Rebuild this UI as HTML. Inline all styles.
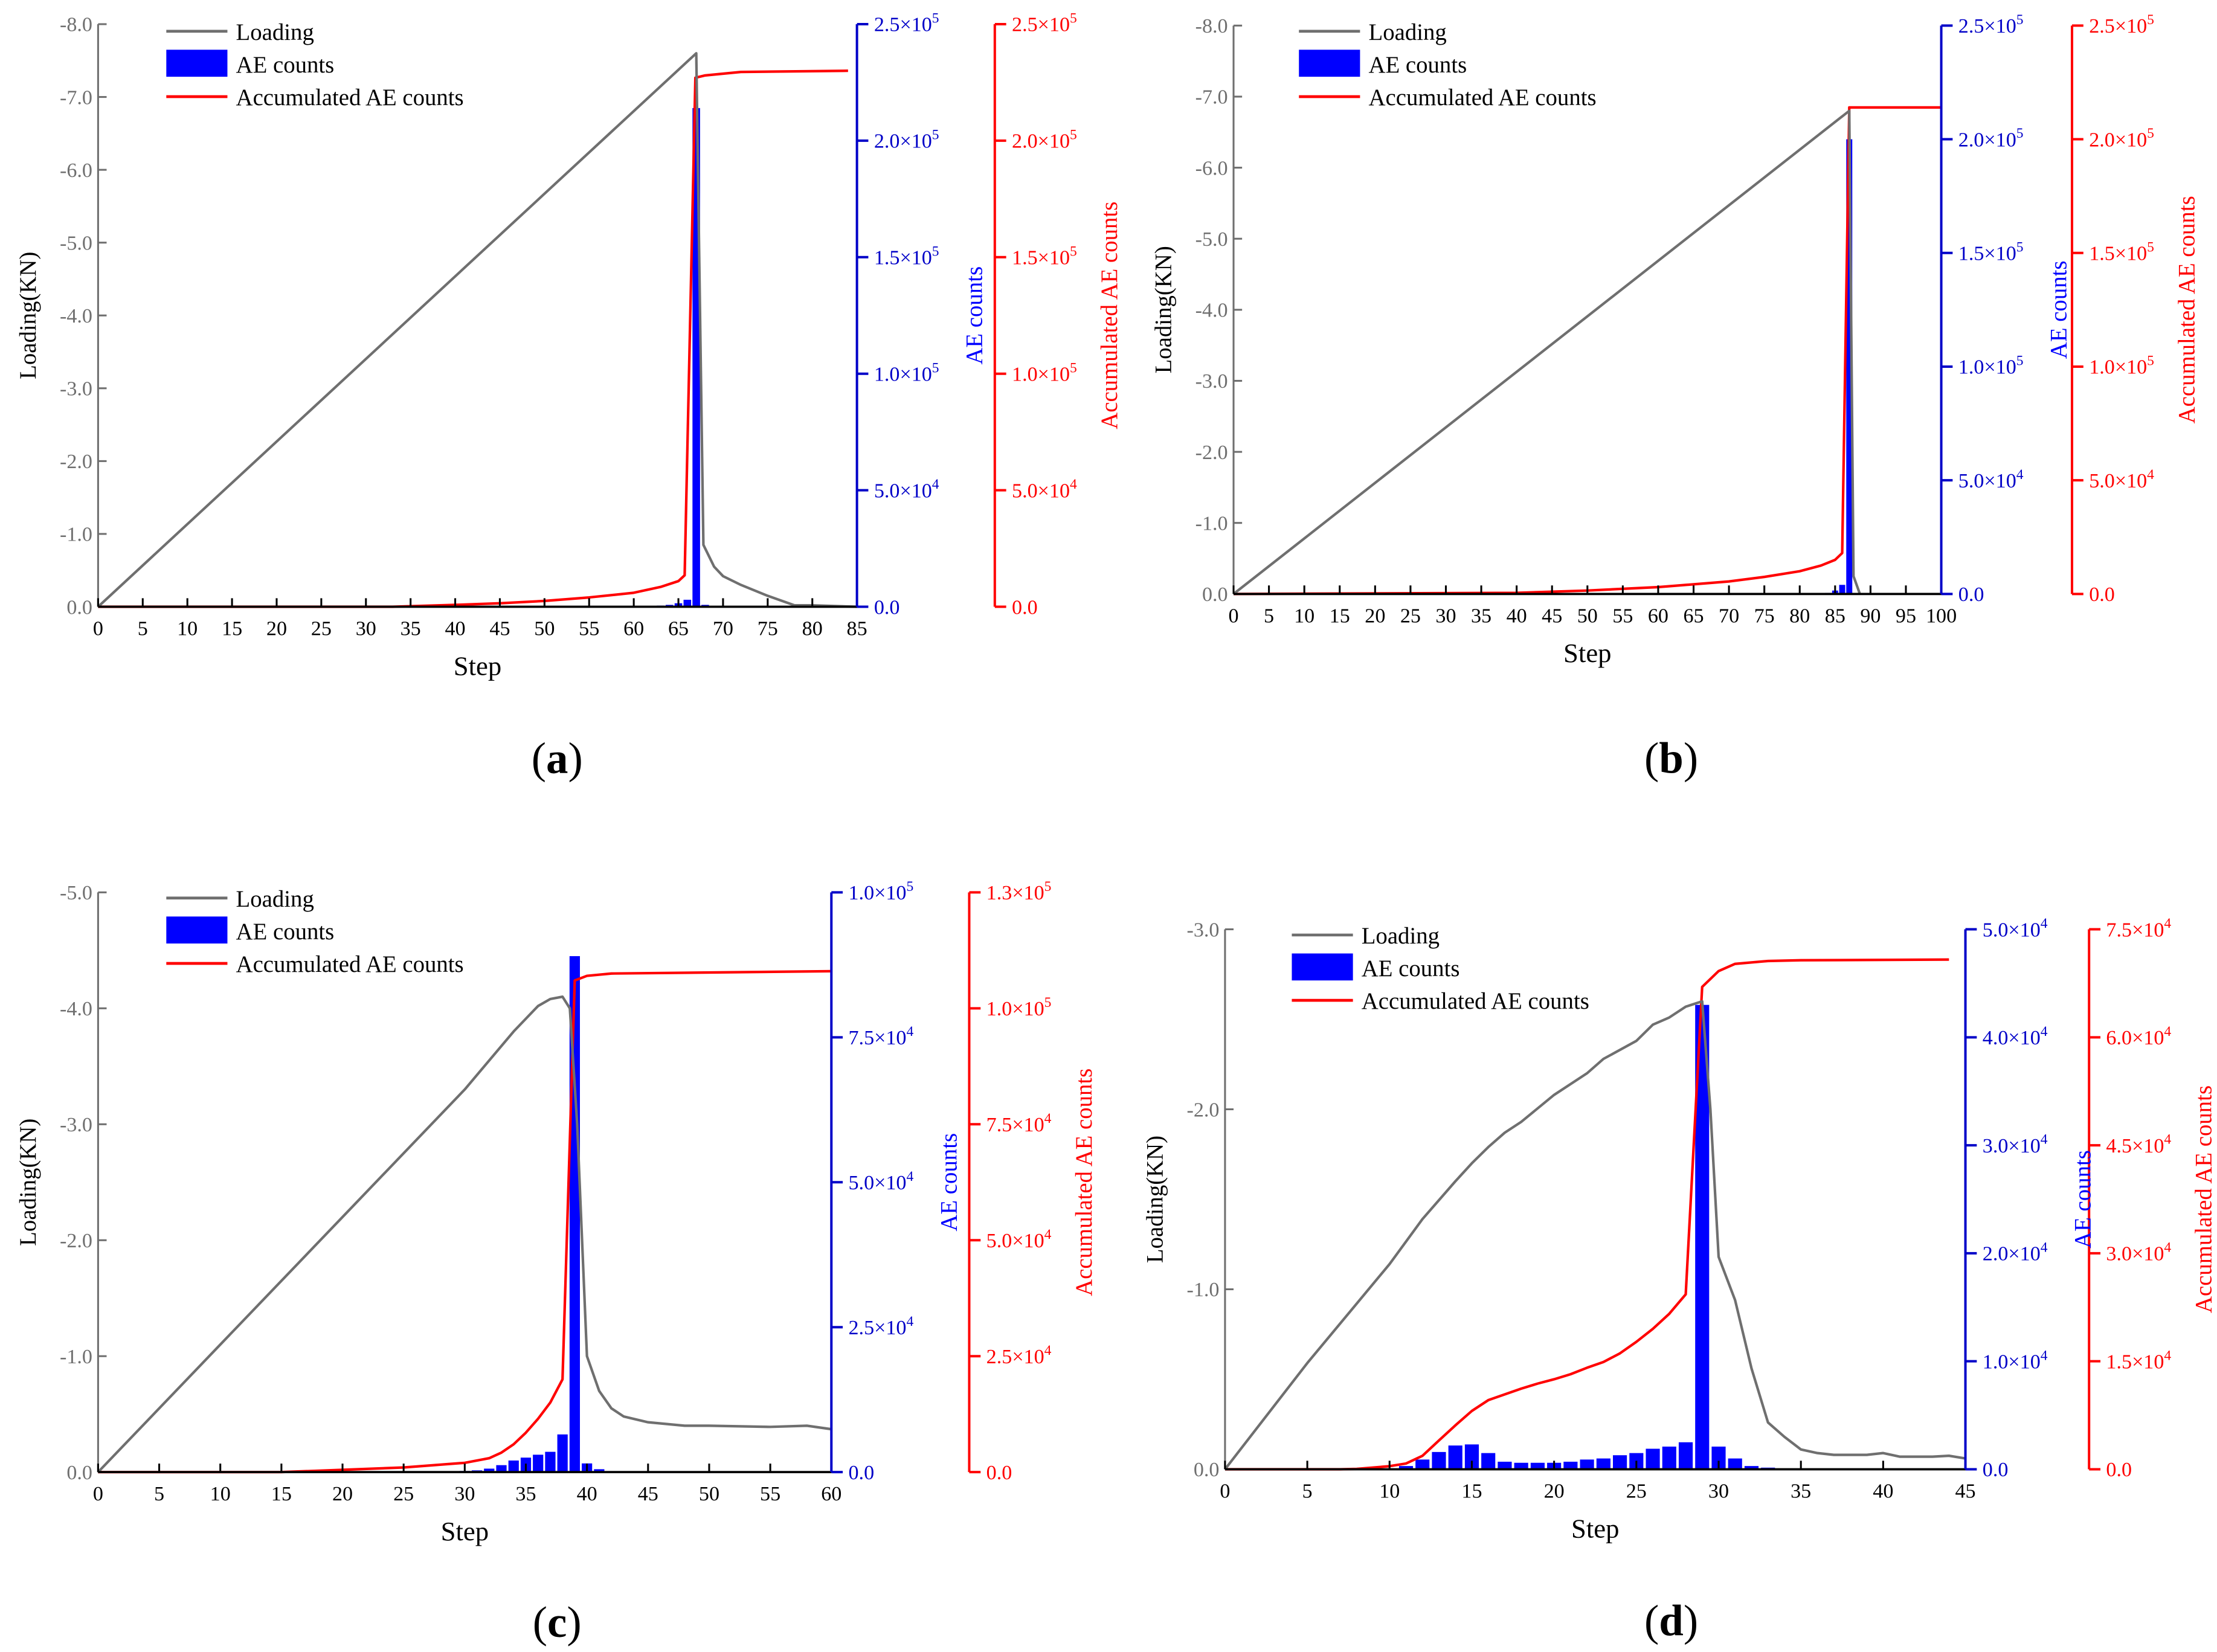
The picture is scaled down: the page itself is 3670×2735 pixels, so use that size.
<!DOCTYPE html>
<html><head><meta charset="utf-8">
<style>
html,body{margin:0;padding:0;background:#fff;}
svg{display:block;}
svg text{font-family:"Liberation Serif","DejaVu Serif",serif;}
</style></head>
<body>
<svg id="fig" width="3670" height="2735" viewBox="0 0 1560 1162.6" font-family="Liberation Serif, serif" xmlns="http://www.w3.org/2000/svg"></svg>
<script>
// ---------- Panel (a) data ----------
const aLoadSteps = [0, 67, 67.8, 69, 70, 72, 75, 78, 80, 85];
const aLoadValues = [0, -7.6, -0.85, -0.55, -0.42, -0.3, -0.15, -0.02, -0.02, 0];
const aBarSteps = [62, 63, 64, 65, 66, 67, 68];
const aBarValues = [300, 500, 800, 1500, 3000, 214000, 800];
const aAccSteps = [0, 33, 40, 45, 50, 55, 60, 63, 65, 65.7, 66.9, 68, 72, 84];
const aAccValues = [0, 0, 800, 1500, 2500, 4000, 6000, 8500, 11000, 13500, 227000, 228000, 229500, 230000];
const aLeftTicks = [0, -1, -2, -3, -4, -5, -6, -7, -8];
const aBlueTicks = [0, 50000, 100000, 150000, 200000, 250000];
const aRedTicks = [0, 50000, 100000, 150000, 200000, 250000];
const aXTicks = [0,5,10,15,20,25,30,35,40,45,50,55,60,65,70,75,80,85];

// ---------- Panel (b) data ----------
const bLoadSteps = [0, 87, 87.6, 88.5];
const bLoadValues = [0, -6.8, -0.25, 0];
const bBarSteps = [84, 85, 86, 87];
const bBarValues = [500, 1500, 4000, 200000];
const bAccSteps = [0, 40, 50, 60, 70, 75, 80, 83, 85, 86, 87, 100];
const bAccValues = [0, 500, 1500, 3000, 5500, 7500, 10000, 12500, 15000, 18000, 214000, 214000];
const bLeftTicks = [0, -1, -2, -3, -4, -5, -6, -7, -8];
const bBlueTicks = [0, 50000, 100000, 150000, 200000, 250000];
const bRedTicks = [0, 50000, 100000, 150000, 200000, 250000];
const bXTicks = [0,5,10,15,20,25,30,35,40,45,50,55,60,65,70,75,80,85,90,95,100];

// ---------- Panel (c) data ----------
const cLoadSteps = [0, 10, 20, 30, 34, 36, 37, 38, 38.6, 39.2, 40, 41, 42, 43, 45, 48, 50, 55, 58, 60];
const cLoadValues = [0, -1.1, -2.2, -3.3, -3.8, -4.02, -4.08, -4.1, -4.0, -3.0, -1.0, -0.7, -0.55, -0.48, -0.43, -0.4, -0.4, -0.39, -0.4, -0.37];
const cBarSteps = [30, 31, 32, 33, 34, 35, 36, 37, 38, 39, 40, 41];
const cBarValues = [200, 300, 600, 1200, 2000, 2500, 3000, 3500, 6500, 89000, 1500, 500];
const cAccSteps = [0, 15, 20, 25, 30, 32, 33, 34, 35, 36, 37, 38, 39, 40, 42, 60];
const cAccValues = [0, 0, 500, 1000, 2000, 3000, 4200, 6000, 8500, 11500, 15000, 20000, 106000, 107000, 107500, 108000];
const cLeftTicks = [0, -1, -2, -3, -4, -5];
const cBlueTicks = [0, 25000, 50000, 75000, 100000];
const cRedTicks = [0, 25000, 50000, 75000, 100000, 125000];
const cXTicks = [0,5,10,15,20,25,30,35,40,45,50,55,60];

// ---------- Panel (d) data ----------
const dLoadSteps = [0,5,10,12,14,15,16,17,18,20,22,23,25,26,27,28,29,29.5,30,31,32,33,34,35,36,37,38,39,40,41,42,43,44,45];
const dLoadValues = [0,-0.59,-1.14,-1.39,-1.6,-1.7,-1.79,-1.87,-1.93,-2.08,-2.2,-2.28,-2.38,-2.47,-2.51,-2.57,-2.6,-2.0,-1.18,-0.94,-0.56,-0.26,-0.18,-0.11,-0.09,-0.08,-0.08,-0.08,-0.09,-0.07,-0.07,-0.07,-0.075,-0.06];
const dBarSteps = [11,12,13,14,15,16,17,18,19,20,21,22,23,24,25,26,27,28,29,30,31,32,33];
const dBarValues = [300,900,1600,2200,2300,1500,700,600,600,600,700,900,1000,1300,1500,1900,2100,2500,43000,2100,1000,300,150];
const dAccSteps = [0,7,8,10,11,12,13,14,15,16,17,18,19,20,21,22,23,24,25,26,27,28,29,30,31,33,35,44];
const dAccValues = [0,0,50,430,800,1870,4000,6100,8100,9600,10400,11200,11900,12500,13200,14100,14900,16100,17700,19500,21600,24300,67000,69200,70200,70600,70700,70800];
const dLeftTicks = [0, -1, -2, -3];
const dBlueTicks = [0, 10000, 20000, 30000, 40000, 50000];
const dRedTicks = [0, 15000, 30000, 45000, 60000, 75000];
const dXTicks = [0,5,10,15,20,25,30,35,40,45];

const NS = "http://www.w3.org/2000/svg";
const svg = document.getElementById("fig");
const SERIF = "Liberation Serif, DejaVu Serif, serif";
function mk(tag, attrs, parent) {
  const e = document.createElementNS(NS, tag);
  if (tag === "text") e.setAttribute("font-family", SERIF);
  for (const k in attrs) e.setAttribute(k, attrs[k]);
  (parent || svg).appendChild(e);
  return e;
}
const GREY = "#6f6f6f", BLUE = "#0000c8", BLUEF = "#0000ff", RED = "#ff0000";

function sciParts(v) {
  if (v === 0) return null;
  const ex = Math.floor(Math.log10(v));
  const m = v / Math.pow(10, ex);
  return [m.toFixed(1), String(ex)];
}
function sciText(g, x, y, v, color) {
  const t = mk("text", {x: x, y: y + 5, fill: color, "font-size": 14.5}, g);
  const p = sciParts(v);
  if (!p) { t.textContent = "0.0"; return t; }
  t.appendChild(document.createTextNode(p[0] + "×10"));
  const s = mk("tspan", {dy: -6, "font-size": 10}, t);
  s.textContent = p[1];
  return t;
}

function panel(cfg) {
  const g = mk("g", {});
  
  
  const {L, R1, R2, T, B} = cfg;
  const xs = s => L + (s / cfg.xMax) * (R1 - L);
  const yl = v => B - (v / cfg.yTop) * (B - T);
  const yb = v => B - (v / cfg.blueMax) * (B - T);
  const yr = v => B - (v / cfg.redMax) * (B - T);

  const bw = (R1 - L) / cfg.xMax * 0.85;
  cfg.barSteps.forEach((s, i) => {
    const v = cfg.barValues[i];
    const r = mk("rect", {x: xs(s) - bw / 2, y: yb(v), width: bw, height: B - yb(v), fill: BLUEF}, g);
    
    
  });
  const acc = mk("polyline", {points: cfg.accSteps.map((s, i) => xs(s) + "," + yr(cfg.accValues[i])).join(" "), fill: "none", stroke: RED, "stroke-width": 1.8, "stroke-linejoin": "round"}, g);
  
  
  const ld = mk("polyline", {points: cfg.loadSteps.map((s, i) => xs(s) + "," + yl(cfg.loadValues[i])).join(" "), fill: "none", stroke: GREY, "stroke-width": 1.8, "stroke-linejoin": "round"}, g);
  
  

  const la = mk("line", {x1: L, y1: T, x2: L, y2: B, stroke: GREY, "stroke-width": 1.3}, g);
  
  
  cfg.leftTicks.forEach(v => {
    mk("line", {x1: L, y1: yl(v), x2: L + 6, y2: yl(v), stroke: GREY, "stroke-width": 1.3}, g);
    const t = mk("text", {x: L - 4, y: yl(v) + 5, fill: GREY, "font-size": 14.5, "text-anchor": "end"}, g);
    t.textContent = v.toFixed(1).replace("-0.0", "0.0");
    
    
  });
  const xa = mk("line", {x1: L, y1: B, x2: R1, y2: B, stroke: "#000", "stroke-width": 1.6}, g);
  
  
  cfg.xTicks.forEach(s => {
    mk("line", {x1: xs(s), y1: B, x2: xs(s), y2: B - 6, stroke: "#000", "stroke-width": 1.3}, g);
    const t = mk("text", {x: xs(s), y: B + 20, fill: "#000", "font-size": 14.5, "text-anchor": "middle"}, g);
    t.textContent = s;
    
    
  });
  const ba = mk("line", {x1: R1, y1: T, x2: R1, y2: B, stroke: BLUE, "stroke-width": 1.7}, g);
  
  
  cfg.blueTicks.forEach(v => {
    mk("line", {x1: R1, y1: yb(v), x2: R1 + 8, y2: yb(v), stroke: BLUE, "stroke-width": 1.7}, g);
    const t = sciText(g, R1 + 12, yb(v), v, BLUE);
    
    
  });
  const ra = mk("line", {x1: R2, y1: T, x2: R2, y2: B, stroke: RED, "stroke-width": 1.7}, g);
  
  
  cfg.redTicks.forEach(v => {
    mk("line", {x1: R2, y1: yr(v), x2: R2 + 8, y2: yr(v), stroke: RED, "stroke-width": 1.7}, g);
    const t = sciText(g, R2 + 12, yr(v), v, RED);
    
    
  });
  const mid = (T + B) / 2;
  const lt = mk("text", {x: 0, y: 0, transform: `translate(${L - 44},${mid}) rotate(-90)`, "font-size": 16.5, "text-anchor": "middle", fill: "#000"}, g);
  lt.textContent = "Loading(KN)";
  
  
  const bt = mk("text", {x: 0, y: 0, transform: `translate(${R1 + 88},${mid}) rotate(-90)`, "font-size": 16.5, "text-anchor": "middle", fill: BLUEF}, g);
  bt.textContent = "AE counts";
  
  
  const rt = mk("text", {x: 0, y: 0, transform: `translate(${R2 + 86},${mid}) rotate(-90)`, "font-size": 16.5, "text-anchor": "middle", fill: RED}, g);
  rt.textContent = "Accumulated AE counts";
  
  
  const st = mk("text", {x: (L + R1) / 2, y: B + 48, "font-size": 19, "text-anchor": "middle", fill: "#000"}, g);
  st.textContent = "Step";
  
  
  const pl = mk("text", {x: cfg.labX, y: cfg.labY, "font-size": 31, "text-anchor": "middle", fill: "#000"}, g);
  pl.appendChild(document.createTextNode("("));
  const pb = mk("tspan", {"font-weight": "bold"}, pl);
  pb.textContent = cfg.id;
  pl.appendChild(document.createTextNode(")"));
  
  
  const lx = cfg.legX, ly = cfg.legY;
  const lg = mk("g", {}, g);
  
  
  mk("line", {x1: lx, y1: ly, x2: lx + 43, y2: ly, stroke: GREY, "stroke-width": 2}, lg);
  const t1 = mk("text", {x: lx + 49, y: ly + 6, "font-size": 16.5}, lg);
  t1.textContent = "Loading";
  
  
  mk("rect", {x: lx, y: ly + 13, width: 43, height: 19, fill: BLUEF}, lg);
  const t2 = mk("text", {x: lx + 49, y: ly + 29, "font-size": 16.5}, lg);
  t2.textContent = "AE counts";
  
  
  mk("line", {x1: lx, y1: ly + 46, x2: lx + 43, y2: ly + 46, stroke: RED, "stroke-width": 2}, lg);
  const t3 = mk("text", {x: lx + 49, y: ly + 52, "font-size": 16.5}, lg);
  t3.textContent = "Accumulated AE counts";
  
  
}

panel({id: "a", L: 69, R1: 603, R2: 700, T: 17, B: 427, xMax: 85, yTop: -8, blueMax: 250000, redMax: 250000,
  loadSteps: aLoadSteps, loadValues: aLoadValues, barSteps: aBarSteps, barValues: aBarValues, accSteps: aAccSteps, accValues: aAccValues,
  leftTicks: aLeftTicks, blueTicks: aBlueTicks, redTicks: aRedTicks, xTicks: aXTicks, legX: 117, legY: 22, labX: 392, labY: 544});
panel({id: "b", L: 868, R1: 1366, R2: 1458, T: 18, B: 418, xMax: 100, yTop: -8, blueMax: 250000, redMax: 250000,
  loadSteps: bLoadSteps, loadValues: bLoadValues, barSteps: bBarSteps, barValues: bBarValues, accSteps: bAccSteps, accValues: bAccValues,
  leftTicks: bLeftTicks, blueTicks: bBlueTicks, redTicks: bRedTicks, xTicks: bXTicks, legX: 914, legY: 22, labX: 1176, labY: 544});
panel({id: "c", L: 69, R1: 585, R2: 682, T: 628, B: 1036, xMax: 60, yTop: -5, blueMax: 100000, redMax: 125000,
  loadSteps: cLoadSteps, loadValues: cLoadValues, barSteps: cBarSteps, barValues: cBarValues, accSteps: cAccSteps, accValues: cAccValues,
  leftTicks: cLeftTicks, blueTicks: cBlueTicks, redTicks: cRedTicks, xTicks: cXTicks, legX: 117, legY: 632, labX: 392, labY: 1152});
panel({id: "d", L: 862, R1: 1383, R2: 1470, T: 654, B: 1034, xMax: 45, yTop: -3, blueMax: 50000, redMax: 75000,
  loadSteps: dLoadSteps, loadValues: dLoadValues, barSteps: dBarSteps, barValues: dBarValues, accSteps: dAccSteps, accValues: dAccValues,
  leftTicks: dLeftTicks, blueTicks: dBlueTicks, redTicks: dRedTicks, xTicks: dXTicks, legX: 909, legY: 658, labX: 1176, labY: 1151});
</script>
</body></html>
